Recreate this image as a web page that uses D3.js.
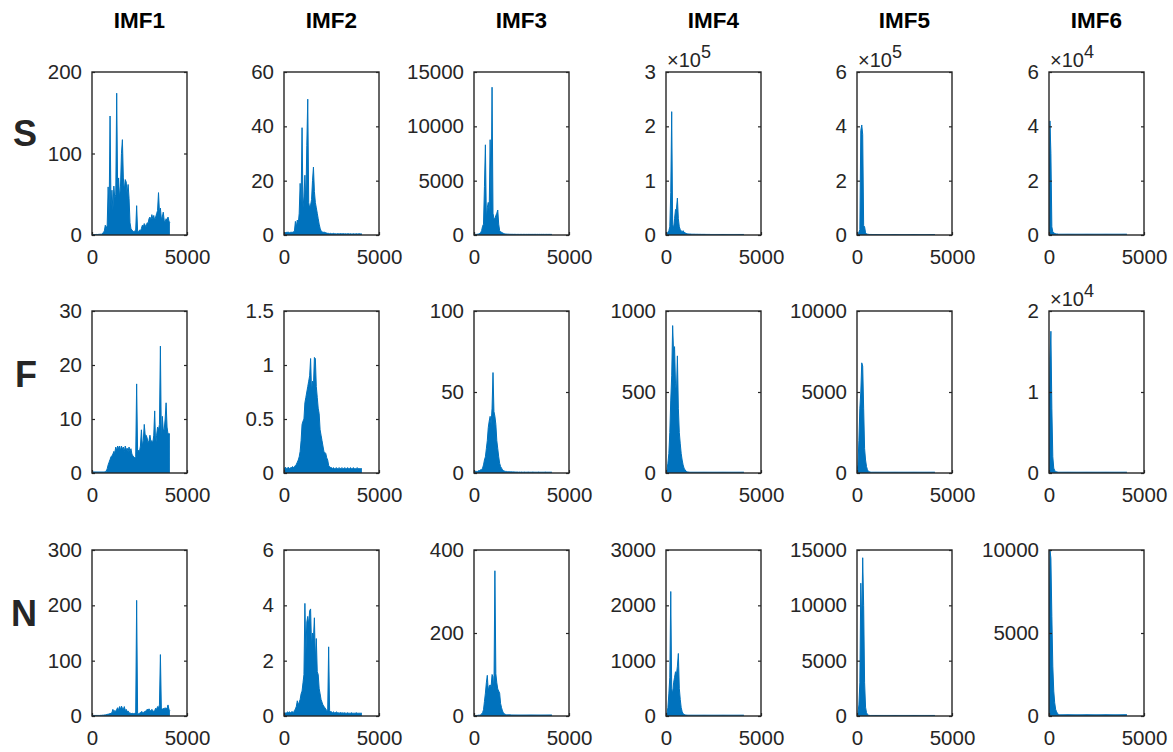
<!DOCTYPE html>
<html>
<head>
<meta charset="utf-8">
<script src="https://cdn.jsdelivr.net/npm/d3@7"></script>
<style>
  body { margin: 0; background: #fff; }
  svg { display: block; }
  text { font-family: "Liberation Sans", Arial, Helvetica, sans-serif; fill: #262626; }
</style>
</head>
<body>
<svg id="fig" width="1173" height="752"></svg>
<script>
// ---- labels ----
const rowNames = ["S", "F", "N"];
const imfNames = ["IMF1", "IMF2", "IMF3", "IMF4", "IMF5", "IMF6"];

// frequency grid of the spectra (Hz), 0 … 4100 in 50 Hz bins
const freqHz = d3.range(0, 4101, 50);
const xTicks = [0, 5000];

// y-axis limits, tick spacing and power-of-ten multiplier per panel
const yTop = [
  [200, 60, 15000, 300000, 600000, 60000],
  [30, 1.5, 100, 1000, 10000, 20000],
  [300, 6, 400, 3000, 15000, 10000]
];
const yTickStep = [
  [100, 20, 5000, 100000, 200000, 20000],
  [10, 0.5, 50, 500, 5000, 10000],
  [100, 2, 200, 1000, 5000, 5000]
];
const yExp = [
  [0, 0, 0, 5, 5, 4],
  [0, 0, 0, 0, 0, 4],
  [0, 0, 0, 0, 0, 0]
];

// ---- spectra, row S ----
const sIMF1 = [0.5,0.5,0.6,0.5,0.6,0.7,0.6,0.8,0.9,1,
  1,2,3,5,12,8,12,59,25,146,
  35,55,30,60,45,50,174,55,70,45,
  60,100,117,70,55,68,65,50,62,45,
  15,8,6,5,4,5,6,36,5,4,
  6,5,8,12,10,14,12,10,15,14,
  20,22,18,25,20,24,18,22,26,30,
  52,28,33,20,22,28,18,16,20,18,
  22,17,15];
const sIMF2 = [0.8,0.8,0.9,1,1,1,0.8,1,1,1,
  1.2,1.5,5,3,5.5,4,8,19,12,39.5,
  10,14,22,12,33,50,12,10,11,13,
  20,25,16,12,10,8,6,4,2.5,1.5,
  1.2,1,1,1,0.8,0.7,0.6,0.6,0.5,0.6,
  0.5,0.5,0.6,0.5,0.5,0.4,0.5,0.5,0.4,0.5,
  0.5,0.4,0.5,0.5,0.4,0.5,0.4,0.5,0.5,0.4,
  0.5,0.4,0.4,0.5,0.4,0.4,0.5,0.4,0.4,0.5,
  0.4,0.4,0.4];
const sIMF3 = [50,50,60,60,80,100,150,200,400,800,
  1000,4460,8300,1500,2500,3000,2200,8770,3000,13600,
  2000,1500,1500,1800,2000,2300,1000,400,300,250,
  200,150,120,100,90,80,80,70,70,60,
  70,60,60,65,60,55,60,60,55,60,
  60,55,60,60,55,60,55,60,60,55,
  60,55,60,55,60,60,55,60,55,60,
  55,60,55,60,55,55,60,55,55,60,
  55,55,55];
const sIMF4 = [1000,3000,5000,8000,15000,78000,227000,20000,12000,30000,
  47000,48000,68000,30000,15000,10000,8000,6000,8000,5000,
  4000,3000,2500,2000,2000,1800,1800,1500,1500,1500,
  1500,1400,1400,1400,1300,1300,1300,1200,1200,1200,
  1200,1200,1100,1100,1100,1100,1100,1000,1000,1000,
  1000,1000,1000,1000,1000,1000,1000,1000,1000,1000,
  1000,1000,1000,1000,1000,1000,1000,1000,1000,1000,
  1000,1000,1000,1000,1000,1000,1000,1000,1000,1000,
  1000,1000,1000];
const sIMF5 = [2000,5000,10000,20000,385000,405000,370000,35000,30000,8000,
  4000,3000,2500,2000,2000,2000,1800,1800,1500,1500,
  1500,1500,1500,1500,1500,1500,1500,1500,1500,1500,
  1500,1500,1500,1500,1500,1500,1500,1500,1500,1500,
  1500,1500,1500,1500,1500,1500,1500,1500,1500,1500,
  1500,1500,1500,1500,1500,1500,1500,1500,1500,1500,
  1500,1500,1500,1500,1500,1500,1500,1500,1500,1500,
  1500,1500,1500,1500,1500,1500,1500,1500,1500,1500,
  1500,1500,1500];
const sIMF6 = [5000,42000,30000,3000,1200,800,600,500,400,400,
  300,300,300,300,300,300,300,300,300,300,
  300,300,300,300,300,300,300,300,300,300,
  300,300,300,300,300,300,300,300,300,300,
  300,300,300,300,300,300,300,300,300,300,
  300,300,300,300,300,300,300,300,300,300,
  300,300,300,300,300,300,300,300,300,300,
  300,300,300,300,300,300,300,300,300,300,
  300,300,300];

// ---- spectra, row F ----
const fIMF1 = [0.2,0.2,0.2,0.2,0.2,0.2,0.2,0.2,0.2,0.2,
  0.2,0.2,0.2,0.2,0.3,0.3,0.8,1.5,2,2.5,
  3,3.2,3.5,4,3.8,4.8,4.2,5,4.5,5,
  4.2,5,4.4,4.8,4,5,4.3,4.6,4,4.8,
  4,4.5,3.5,3.2,3,2.8,3,16.5,4,4.2,
  4,5,8,5,6,9,7,7,6.5,5.5,
  6,7,5.8,6,5.5,7,11.5,5,7,8.5,
  8,9,23.5,6,10.5,8,8,10,13,8.5,
  7.2,7.3,7.2];
const fIMF2 = [0.04,0.05,0.05,0.04,0.05,0.05,0.04,0.05,0.05,0.06,
  0.05,0.06,0.07,0.08,0.1,0.12,0.15,0.2,0.3,0.45,
  0.48,0.5,0.65,0.7,0.75,0.8,0.85,0.9,1.06,0.75,
  0.85,0.8,1.07,1.06,0.8,0.7,0.6,0.55,0.4,0.35,
  0.3,0.25,0.2,0.19,0.18,0.14,0.12,0.07,0.06,0.05,
  0.05,0.04,0.05,0.04,0.04,0.05,0.04,0.04,0.05,0.04,
  0.04,0.05,0.04,0.04,0.05,0.04,0.04,0.05,0.04,0.04,
  0.05,0.04,0.04,0.05,0.04,0.04,0.04,0.05,0.04,0.04,
  0.04,0.04,0.04];
const fIMF3 = [1,1,1,1,1,1.5,1.5,2,2,3,
  5,8,10,15,20,28,32,35,30,40,
  62,38,35,30,20,15,10,6,4,3,
  2,1.5,1.2,1,1,0.8,0.8,0.8,0.7,0.7,
  0.7,0.6,0.7,0.6,0.6,0.6,0.6,0.5,0.6,0.5,
  0.6,0.5,0.5,0.6,0.5,0.5,0.5,0.6,0.5,0.5,
  0.5,0.5,0.6,0.5,0.5,0.5,0.5,0.5,0.6,0.5,
  0.5,0.5,0.5,0.5,0.5,0.6,0.5,0.5,0.5,0.5,
  0.5,0.5,0.5];
const fIMF4 = [10,20,60,120,250,450,600,910,740,780,
  550,500,723,400,250,180,120,80,50,30,
  20,12,8,6,6,5,5,5,5,5,
  5,5,5,5,5,5,5,5,5,5,
  5,5,5,5,5,5,5,5,5,5,
  5,5,5,5,5,5,5,5,5,5,
  5,5,5,5,5,5,5,5,5,5,
  5,5,5,5,5,5,5,5,5,5,
  5,5,5];
const fIMF5 = [100,500,2000,4000,5000,6800,6600,4000,1500,800,
  400,200,100,80,60,50,50,50,50,50,
  50,50,50,50,50,50,50,50,50,50,
  50,50,50,50,50,50,50,50,50,50,
  50,50,50,50,50,50,50,50,50,50,
  50,50,50,50,50,50,50,50,50,50,
  50,50,50,50,50,50,50,50,50,50,
  50,50,50,50,50,50,50,50,50,50,
  50,50,50];
const fIMF6 = [3000,14000,17500,8000,2000,600,300,200,150,120,
  100,100,100,100,100,100,100,100,100,100,
  100,100,100,100,100,100,100,100,100,100,
  100,100,100,100,100,100,100,100,100,100,
  100,100,100,100,100,100,100,100,100,100,
  100,100,100,100,100,100,100,100,100,100,
  100,100,100,100,100,100,100,100,100,100,
  100,100,100,100,100,100,100,100,100,100,
  100,100,100];

// ---- spectra, row N ----
const nIMF1 = [1,1,1,1,1,1,1,1,1,1.2,
  1.2,1.5,1.5,2,2,2.5,3,3,4,4,
  5,6,12,7,10,8,12,15,10,17,
  12,18,14,12,17,10,12,8,9,6,
  5,5,4,5,4,5,6,209,5,4,
  5,6,8,7,6,8,7,10,12,11,
  13,10,9,12,10,8,10,14,12,17,
  15,20,111,14,12,14,12,15,13,14,
  20,12,10];
const nIMF2 = [0.1,0.12,0.1,0.12,0.15,0.12,0.15,0.12,0.15,0.15,
  0.12,0.2,0.25,0.35,0.55,0.4,0.5,0.6,0.8,0.9,
  1.2,1.5,4.07,2.2,3.4,3.6,3.3,3.8,3.87,2.5,
  3,2.8,3.55,2,2.8,1.6,1.5,1,0.8,0.6,
  0.5,0.4,0.35,0.3,0.25,0.2,0.2,2.5,0.2,0.15,
  0.15,0.12,0.15,0.12,0.12,0.15,0.12,0.12,0.1,0.12,
  0.12,0.1,0.12,0.1,0.12,0.1,0.1,0.12,0.1,0.1,
  0.1,0.12,0.1,0.1,0.1,0.1,0.12,0.1,0.1,0.1,
  0.1,0.1,0.1];
const nIMF3 = [1,1,1,1.5,1.5,2,2,3,5,8,
  15,35,55,80,98,60,72,75,70,100,
  95,60,350,102,80,65,60,55,30,20,
  12,8,5,4,3,3,3,3,3,2.5,
  2.5,2.5,2.5,2.5,2.5,2.5,2.5,2.5,2.5,2.5,
  2.5,2.5,2.5,2.5,2.5,2.5,2.5,2.5,2.5,2.5,
  2.5,2.5,2.5,2.5,2.5,2.5,2.5,2.5,2.5,2.5,
  2.5,2.5,2.5,2.5,2.5,2.5,2.5,2.5,2.5,2.5,
  2.5,2.5,2.5];
const nIMF4 = [20,50,150,400,700,2250,500,400,600,700,
  800,750,900,1130,500,300,150,80,40,30,
  20,18,16,15,15,15,15,15,15,15,
  15,15,15,15,15,15,15,15,15,15,
  15,15,15,15,15,15,15,15,15,15,
  15,15,15,15,15,15,15,15,15,15,
  15,15,15,15,15,15,15,15,15,15,
  15,15,15,15,15,15,15,15,15,15,
  15,15,15];
const nIMF5 = [100,300,1000,3000,12000,8000,14300,10000,3000,800,
  300,150,80,60,50,50,50,50,50,50,
  50,50,50,50,50,50,50,50,50,50,
  50,50,50,50,50,50,50,50,50,50,
  50,50,50,50,50,50,50,50,50,50,
  50,50,50,50,50,50,50,50,50,50,
  50,50,50,50,50,50,50,50,50,50,
  50,50,50,50,50,50,50,50,50,50,
  50,50,50];
const nIMF6 = [3000,10000,9500,6000,3000,1500,800,400,250,150,
  100,80,80,80,80,80,80,80,80,80,
  80,80,80,80,80,80,80,80,80,80,
  80,80,80,80,80,80,80,80,80,80,
  80,80,80,80,80,80,80,80,80,80,
  80,80,80,80,80,80,80,80,80,80,
  80,80,80,80,80,80,80,80,80,80,
  80,80,80,80,80,80,80,80,80,80,
  80,80,80];

const spectra = [
  [sIMF1, sIMF2, sIMF3, sIMF4, sIMF5, sIMF6],
  [fIMF1, fIMF2, fIMF3, fIMF4, fIMF5, fIMF6],
  [nIMF1, nIMF2, nIMF3, nIMF4, nIMF5, nIMF6]
];

// ---- layout ----
const colLeft = [92, 284, 474, 666, 857, 1049];
const axW = 95;
const rowTopPx = [72, 311, 550];
const rowBottomPx = [235, 473, 716];
const lineColor = "#0072BD";
const inkColor = "#262626";
const tickFont = 20.5;

const svg = d3.select("#fig");

// column titles
imfNames.forEach((name, c) => {
  svg.append("text")
    .attr("x", colLeft[c] + axW / 2)
    .attr("y", 28)
    .attr("text-anchor", "middle")
    .attr("font-size", 22.5)
    .attr("font-weight", "bold")
    .style("fill", "#000")
    .text(name);
});

// row labels
const rowLabelY = [146, 387, 626];
rowNames.forEach((name, r) => {
  svg.append("text")
    .attr("x", 37)
    .attr("y", rowLabelY[r])
    .attr("text-anchor", "end")
    .attr("font-size", 36)
    .attr("font-weight", "bold")
    .text(name);
});

const fmt = v => String(+v.toFixed(6));

spectra.forEach((row, r) => {
  row.forEach((vals, c) => {
    const x0 = colLeft[c], x1 = colLeft[c] + axW;
    const yb = rowBottomPx[r], yt = rowTopPx[r];
    const x = d3.scaleLinear().domain([0, 5000]).range([x0, x1]);
    const y = d3.scaleLinear().domain([0, yTop[r][c]]).range([yb, yt]);
    const scale = Math.pow(10, yExp[r][c]);
    const ticks = d3.range(0, yTop[r][c] + yTickStep[r][c] / 2, yTickStep[r][c]);

    const g = svg.append("g");
    const clipId = `clip-${r}-${c}`;
    g.append("clipPath").attr("id", clipId)
      .append("rect").attr("x", x0).attr("y", yt).attr("width", axW).attr("height", yb - yt);

    const plot = g.append("g").attr("clip-path", `url(#${clipId})`);
    const area = d3.area()
      .x((d, i) => x(freqHz[i]))
      .y0(y(0))
      .y1(d => y(d));
    const line = d3.line()
      .x((d, i) => x(freqHz[i]))
      .y(d => y(d));
    plot.append("path").datum(vals)
      .attr("d", area)
      .attr("fill", lineColor);
    plot.append("path").datum(vals)
      .attr("d", line)
      .attr("fill", "none")
      .attr("stroke", lineColor)
      .attr("stroke-width", 1);

    // left axis with labels, ticks pointing inward
    const left = g.append("g").attr("transform", `translate(${x0},0)`)
      .call(d3.axisLeft(y).tickValues(ticks).tickSize(-3).tickPadding(10)
        .tickFormat(v => fmt(v / scale)));
    // mirrored ticks on the right edge
    const right = g.append("g").attr("transform", `translate(${x1},0)`)
      .call(d3.axisRight(y).tickValues(ticks).tickSize(-3).tickFormat(""));
    // bottom axis
    const bottom = g.append("g").attr("transform", `translate(0,${yb})`)
      .call(d3.axisBottom(x).tickValues(xTicks).tickSize(-3).tickPadding(14)
        .tickFormat(d3.format("d")));
    [left, right, bottom].forEach(a => {
      a.select(".domain").remove();
      a.selectAll("line").attr("stroke", inkColor).attr("stroke-width", 1.2);
      a.selectAll("text").attr("font-size", tickFont)
        .attr("font-family", "'Liberation Sans', Arial, Helvetica, sans-serif")
        .style("fill", inkColor);
    });
    bottom.selectAll("text").attr("dy", "0.75em");

    // axes box
    g.append("rect")
      .attr("x", x0).attr("y", yt).attr("width", axW).attr("height", yb - yt)
      .attr("fill", "none").attr("stroke", inkColor).attr("stroke-width", 1.4);

    // power-of-ten multiplier
    if (yExp[r][c] > 0) {
      const t = g.append("text")
        .attr("x", x0 + 1).attr("y", yt - 5)
        .attr("font-size", 20);
      t.append("tspan").text("\u00d710");
      t.append("tspan").attr("dy", -9).attr("font-size", 18).text(yExp[r][c]);
    }
  });
});
</script>
</body>
</html>
